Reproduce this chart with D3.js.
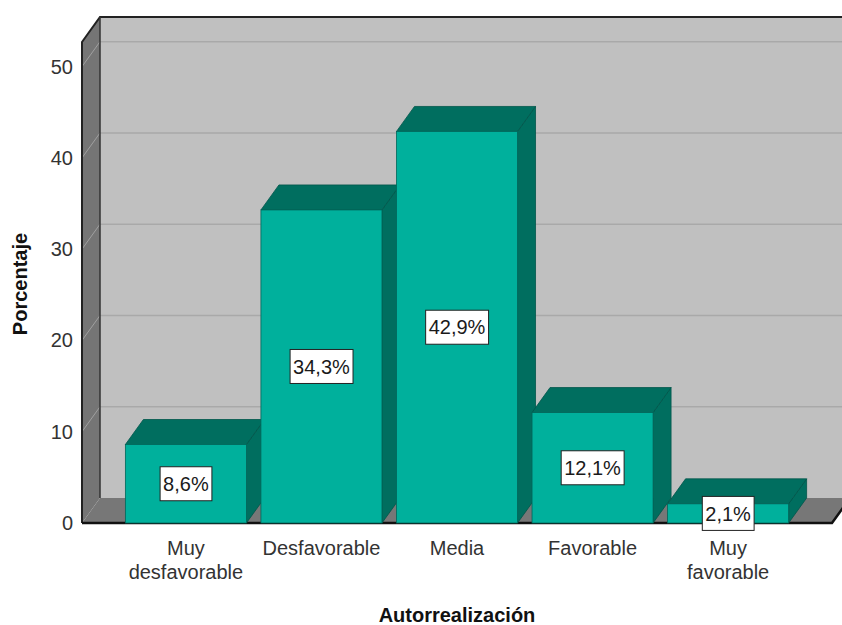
<!DOCTYPE html>
<html>
<head>
<meta charset="utf-8">
<script src="https://cdn.jsdelivr.net/npm/d3@7"></script>
<style>
  body { margin: 0; background: #fff; }
  svg { display: block; }
</style>
</head>
<body>
<div id="chart"></div>
<script>
// datos
const categorias = ["Muy\ndesfavorable", "Desfavorable", "Media", "Favorable", "Muy\nfavorable"];
const porcentajes = [8.6, 34.3, 42.9, 12.1, 2.1];
const marcas = [0, 10, 20, 30, 40, 50];

const width = 842, height = 625;
const depth = {x: 18, y: -25};
const front = {left: 82, right: 832, top: 42, bottom: 523};

const fmt = d3.formatLocale({decimal: ",", thousands: ".", grouping: [3], currency: ["", ""]}).format(".1f");

let x = d3.scaleBand()
    .domain(d3.range(categorias.length))
    .range([front.left, front.right])
    .paddingInner(0.107)
    .paddingOuter(0.32);

let y = d3.scaleLinear()
    .domain([0, 52.7])
    .range([front.bottom, front.top]);

let svg = d3.select("#chart")
    .append("svg")
    .attr("width", width)
    .attr("height", height);

let pts = a => a.map(p => p.join(",")).join(" ");
let bx = front.left + depth.x, by = front.bottom + depth.y;

// pared del fondo
svg.append("polygon")
    .attr("points", pts([[bx, y(52.7) + depth.y], [front.right + depth.x + 20, y(52.7) + depth.y], [front.right + depth.x + 20, by], [bx, by]]))
    .attr("fill", "#c0c0c0");

// lineas de la cuadricula
svg.append("g")
    .selectAll("line")
    .data(marcas.filter(d => d > 0))
    .join("line")
    .attr("x1", bx)
    .attr("x2", width)
    .attr("y1", d => y(d) + depth.y)
    .attr("y2", d => y(d) + depth.y)
    .attr("stroke", "#a9a9a9")
    .attr("stroke-width", 1.5);

// pared izquierda
svg.append("polygon")
    .attr("points", pts([[front.left, front.top], [bx, front.top + depth.y], [bx, by], [front.left, front.bottom]]))
    .attr("fill", "#757575");

svg.append("g")
    .selectAll("line")
    .data(marcas.filter(d => d > 0))
    .join("line")
    .attr("x1", front.left)
    .attr("x2", bx)
    .attr("y1", d => y(d))
    .attr("y2", d => y(d) + depth.y)
    .attr("stroke", "#a0a0a0")
    .attr("stroke-width", 1);

// suelo
svg.append("polygon")
    .attr("points", pts([[front.left, front.bottom], [bx, by], [front.right + depth.x, by], [front.right, front.bottom]]))
    .attr("fill", "#777777");

// bordes
svg.append("path")
    .attr("d", `M${front.left},${front.bottom}V${front.top}L${bx},${front.top + depth.y}H${width}`)
    .attr("fill", "none")
    .attr("stroke", "#222")
    .attr("stroke-width", 2);
svg.append("line")
    .attr("x1", bx).attr("x2", bx)
    .attr("y1", front.top + depth.y).attr("y2", by)
    .attr("stroke", "#333").attr("stroke-width", 1.5);
svg.append("path")
    .attr("d", `M${front.left},${front.bottom}H${front.right}L${front.right + depth.x},${by}`)
    .attr("fill", "none")
    .attr("stroke", "#111")
    .attr("stroke-width", 2.5);

// barras
let bars = svg.append("g")
    .selectAll("g")
    .data(porcentajes)
    .join("g");

bars.append("polygon")
    .attr("points", (d, i) => {
        let x1 = x(i) + x.bandwidth();
        return pts([[x1, y(d)], [x1 + depth.x, y(d) + depth.y], [x1 + depth.x, by], [x1, front.bottom]]);
    })
    .attr("fill", "#006e5f")
    .attr("stroke", "#00564a")
    .attr("stroke-width", 0.8);

bars.append("polygon")
    .attr("points", (d, i) => {
        let x0 = x(i), x1 = x(i) + x.bandwidth();
        return pts([[x0, y(d)], [x0 + depth.x, y(d) + depth.y], [x1 + depth.x, y(d) + depth.y], [x1, y(d)]]);
    })
    .attr("fill", "#006e5f")
    .attr("stroke", "#00564a")
    .attr("stroke-width", 0.8);

bars.append("rect")
    .attr("x", (d, i) => x(i))
    .attr("y", d => y(d))
    .attr("width", x.bandwidth())
    .attr("height", d => y(0) - y(d))
    .attr("fill", "#00b09c")
    .attr("stroke", "#00665a")
    .attr("stroke-width", 0.8);

// etiquetas de porcentaje
let lab = bars.append("g")
    .attr("transform", (d, i) => `translate(${x(i) + x.bandwidth() / 2},${(y(d) + y(0)) / 2})`);

lab.append("text")
    .attr("text-anchor", "middle")
    .attr("dy", "0.36em")
    .attr("font-family", "Liberation Sans, Arial, sans-serif")
    .attr("font-size", 20)
    .attr("fill", "#1a1a1a")
    .text(d => fmt(d) + "%")
    .each(function() {
        let b = this.getBBox();
        d3.select(this.parentNode).insert("rect", "text")
            .attr("x", b.x - 3)
            .attr("y", -17)
            .attr("width", b.width + 6)
            .attr("height", 34)
            .attr("fill", "#fff")
            .attr("stroke", "#222")
            .attr("stroke-width", 1);
    });

// eje y
svg.append("g")
    .attr("transform", `translate(${front.left},0)`)
    .call(d3.axisLeft(y).tickValues(marcas).tickSize(0).tickPadding(9))
    .call(g => g.select(".domain").remove())
    .call(g => g.selectAll("text")
        .attr("font-family", "Liberation Sans, Arial, sans-serif")
        .attr("font-size", 20)
        .attr("fill", "#333"));

// eje x
svg.append("g")
    .selectAll("text")
    .data(categorias)
    .join("text")
    .attr("x", (d, i) => x(i) + x.bandwidth() / 2)
    .attr("y", 555)
    .attr("text-anchor", "middle")
    .attr("font-family", "Liberation Sans, Arial, sans-serif")
    .attr("font-size", 20)
    .attr("fill", "#333")
    .selectAll("tspan")
    .data(d => d.split("\n"))
    .join("tspan")
    .attr("x", function() { return d3.select(this.parentNode).attr("x"); })
    .attr("dy", (d, i) => i ? 24 : 0)
    .text(d => d);

// titulos
svg.append("text")
    .attr("x", 457)
    .attr("y", 622)
    .attr("text-anchor", "middle")
    .attr("font-family", "Liberation Sans, Arial, sans-serif")
    .attr("font-size", 20)
    .attr("font-weight", "bold")
    .attr("fill", "#111")
    .text("Autorrealización");

svg.append("text")
    .attr("transform", "translate(27,284) rotate(-90)")
    .attr("text-anchor", "middle")
    .attr("font-family", "Liberation Sans, Arial, sans-serif")
    .attr("font-size", 20)
    .attr("font-weight", "bold")
    .attr("fill", "#111")
    .text("Porcentaje");
</script>
</body>
</html>
